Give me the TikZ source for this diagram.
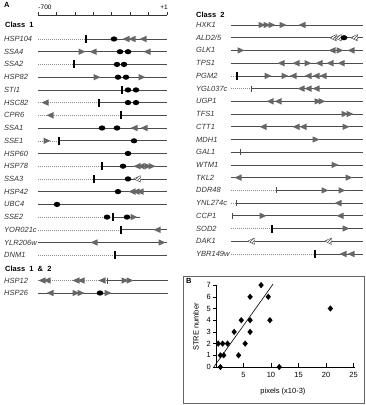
\documentclass[tikz,border=0pt]{standalone}
\usepackage{fontspec}
\setsansfont{Liberation Sans}
\usepackage{tikz}
\usetikzlibrary{patterns, shapes.geometric}
\tikzstyle{panel} = [anchor=west, inner sep=0pt, font=\sffamily\bfseries\fontsize{7.5}{8}\selectfont]
\tikzstyle{classname} = [anchor=west, inner sep=0pt, font=\sffamily\bfseries\fontsize{7.5}{8}\selectfont]
\tikzstyle{genename} = [anchor=west, inner sep=0pt, text=black!80, font=\sffamily\itshape\fontsize{7.5}{8}\selectfont]
\tikzstyle{rulelabel} = [inner sep=0pt, font=\sffamily\fontsize{6.5}{7}\selectfont]
\tikzstyle{ruler} = [line width=0.5pt, black!80]
\tikzstyle{orf} = [line width=0.8pt, black!70]
\tikzstyle{prom} = [line width=0.6pt, black!45, dash pattern=on 1pt off 1pt]
\tikzstyle{stre} = [fill=black!60]
\tikzstyle{axislabel} = [inner sep=0pt, font=\sffamily\fontsize{7.5}{8}\selectfont]
\tikzstyle{stredot} = [diamond, fill=black, inner sep=0pt, minimum width=5.5pt, minimum height=6.5pt]
\tikzset{
  stl/.pic={\fill[stre] (3.5,-3.2) -- (3.5,3.2) -- (-3.5,0) -- cycle;},
  str/.pic={\fill[stre] (-3.5,-3.2) -- (-3.5,3.2) -- (3.5,0) -- cycle;},
  stlh/.pic={\filldraw[fill=white, draw=black!70, line width=0.4pt] (3.5,-3.2) -- (3.5,3.2) -- (-3.5,0) -- cycle;
    \fill[pattern=north east lines, pattern color=black!70] (3.5,-3.2) -- (3.5,3.2) -- (-3.5,0) -- cycle;},
  hse/.pic={\fill (0,0) ellipse (3.3 and 2.6);},
  tata/.pic={\fill (-1.3,-4) rectangle (1.3,4);},
  tsite/.pic={\draw[line width=0.5pt, black!70] (0,-3) -- (0,3);}
}

\begin{document}
\begin{tikzpicture}[x=1pt, y=-1pt]
  \useasboundingbox (0,0) rectangle (366,405);
  % panel A
  \node[panel] (labA) at (4,5) {A};
  \draw[ruler] (38,15) -- (167,15);
  \foreach \k in {0,...,7} \draw[ruler] (38+\k*18.43,15) -- (38+\k*18.43,12);
  \node[rulelabel] (r700) at (45,7) {-700};
  \node[rulelabel] (r1) at (164,7) {+1};

  % class 1
  \node[classname] (cls1) at (5,25) {Class\ \ 1};
  \node[genename] (hsp104) at (4,39) {HSP104};
  \draw[prom] (38,39) -- (86,39); \draw[orf] (86,39) -- (167,39);
  \pic at (86,39) {tata}; \pic at (114,39) {hse};
  \foreach \x in {126,132,143} \pic at (\x,39) {stl};

  \node[genename] (ssa4) at (4,51.7) {SSA4};
  \draw[orf] (38,51.7) -- (167,51.7);
  \pic at (82,51.7) {str}; \pic at (93,51.7) {stl}; \pic at (147,51.7) {stl};
  \foreach \x in {120,128} \pic at (\x,51.7) {hse};

  \node[genename] (ssa2) at (4,64.4) {SSA2};
  \draw[prom] (38,64.4) -- (74,64.4); \draw[orf] (74,64.4) -- (167,64.4);
  \pic at (74,64.4) {tata};
  \foreach \x in {117,124} \pic at (\x,64.4) {hse};

  \node[genename] (hsp82) at (4,77.2) {HSP82};
  \draw[orf] (38,77.2) -- (167,77.2);
  \pic at (97,77.2) {str}; \pic at (142,77.2) {str};
  \foreach \x in {118,126} \pic at (\x,77.2) {hse};

  \node[genename] (sti1) at (4,89.9) {STI1};
  \draw[orf] (38,89.9) -- (167,89.9);
  \pic at (122,89.9) {tata};
  \foreach \x in {128,136} \pic at (\x,89.9) {hse};

  \node[genename] (hsc82) at (4,102.6) {HSC82};
  \draw[prom] (38,102.6) -- (99,102.6); \draw[orf] (99,102.6) -- (167,102.6);
  \pic at (45,102.6) {stl}; \pic at (99,102.6) {tata};
  \foreach \x in {128,136} \pic at (\x,102.6) {hse};

  \node[genename] (cpr6) at (4,115.3) {CPR6};
  \draw[prom] (38,115.3) -- (121,115.3); \draw[orf] (121,115.3) -- (167,115.3);
  \pic at (50,115.3) {stl}; \pic at (121,115.3) {tata};

  \node[genename] (ssa1) at (4,128) {SSA1};
  \draw[orf] (38,128) -- (167,128);
  \foreach \x in {102,117} \pic at (\x,128) {hse};
  \foreach \x in {134,144} \pic at (\x,128) {stl};

  \node[genename] (sse1) at (4,140.8) {SSE1};
  \draw[prom] (38,140.8) -- (59,140.8); \draw[orf] (59,140.8) -- (167,140.8);
  \pic at (47,140.8) {str}; \pic at (59,140.8) {tata}; \pic at (134,140.8) {hse};

  \node[genename] (hsp60) at (4,153.5) {HSP60};
  \draw[orf] (38,153.5) -- (167,153.5);
  \pic at (128,153.5) {hse};

  \node[genename] (hsp78) at (4,166.2) {HSP78};
  \draw[prom] (38,166.2) -- (102,166.2); \draw[orf] (102,166.2) -- (167,166.2);
  \pic at (102,166.2) {tata}; \pic at (123,166.2) {hse};
  \foreach \x in {137,141} \pic at (\x,166.2) {stl};
  \foreach \x in {148,152} \pic at (\x,166.2) {str};

  \node[genename] (ssa3) at (4,178.9) {SSA3};
  \draw[prom] (38,178.9) -- (94,178.9); \draw[orf] (94,178.9) -- (167,178.9);
  \pic at (94,178.9) {tata}; \pic at (128,178.9) {hse}; \pic at (137,178.9) {stlh};

  \node[genename] (hsp42) at (4,191.6) {HSP42};
  \draw[orf] (38,191.6) -- (167,191.6);
  \pic at (118,191.6) {hse};
  \foreach \x in {132,136,140} \pic at (\x,191.6) {stl};

  \node[genename] (ubc4) at (4,204.4) {UBC4};
  \draw[orf] (38,204.4) -- (167,204.4);
  \pic at (57,204.4) {hse};

  \node[genename] (sse2) at (4,217.1) {SSE2};
  \draw[prom] (38,217.1) -- (113,217.1); \draw[orf] (113,217.1) -- (140,217.1);
  \pic at (107,217.1) {hse}; \pic at (113,217.1) {tata};
  \pic at (127,217.1) {hse}; \pic at (134,217.1) {str};

  \node[genename] (yor021c) at (4,229.8) {YOR021c};
  \draw[prom] (38,229.8) -- (121,229.8); \draw[orf] (121,229.8) -- (167,229.8);
  \pic at (121,229.8) {tata}; \pic at (157,229.8) {stl};

  \node[genename] (ylr206w) at (4,242.5) {YLR206w};
  \draw[orf] (38,242.5) -- (167,242.5);
  \pic at (94,242.5) {stl}; \pic at (162,242.5) {str};

  \node[genename] (dnm1) at (4,255.2) {DNM1};
  \draw[prom] (38,255.2) -- (115,255.2); \draw[orf] (115,255.2) -- (167,255.2);
  \pic at (115,255.2) {tata};

  % class 1 & 2
  \node[classname] (cls12) at (5,268.5) {Class\ \ 1\ \ \&\ \ 2};
  \node[genename] (hsp12) at (4,280.5) {HSP12};
  \draw[prom] (38,280.5) -- (107,280.5); \draw[orf] (107,280.5) -- (168,280.5);
  \foreach \x in {42,47,76,81,102} \pic at (\x,280.5) {stl};
  \pic at (107,280.5) {tsite};
  \foreach \x in {125,130} \pic at (\x,280.5) {str};

  \node[genename] (hsp26) at (4,293) {HSP26};
  \draw[orf] (38,293) -- (168,293);
  \pic at (50,293) {stl};
  \foreach \x in {76,81,108} \pic at (\x,293) {str};
  \pic at (100,293) {hse};

  % class 2
  \node[classname] (cls2) at (196,15) {Class\ \ 2};
  \node[genename] (hxk1) at (196,25) {HXK1};
  \draw[orf] (231,25) -- (363,25);
  \foreach \x in {262,267,272,283} \pic at (\x,25) {str};
  \pic at (302,25) {stl};

  \node[genename] (ald25) at (196,37.7) {ALD2/5};
  \draw[orf] (231,37.7) -- (363,37.7);
  \foreach \x in {333,338} \pic at (\x,37.7) {stlh};
  \pic at (344,37.7) {hse}; \pic at (354,37.7) {stlh};

  \node[genename] (glk1) at (196,50.4) {GLK1};
  \draw[orf] (231,50.4) -- (363,50.4);
  \pic at (241,50.4) {str}; \pic at (332,50.4) {stl};
  \pic at (340,50.4) {str}; \pic at (351,50.4) {stl};

  \node[genename] (tps1) at (196,63.2) {TPS1};
  \draw[orf] (231,63.2) -- (363,63.2);
  \foreach \x in {281,296,319,330,341} \pic at (\x,63.2) {stl};
  \pic at (308,63.2) {str};

  \node[genename] (pgm2) at (196,75.9) {PGM2};
  \draw[prom] (231,75.9) -- (237,75.9); \draw[orf] (237,75.9) -- (363,75.9);
  \pic at (237,75.9) {tata};
  \foreach \x in {268,285} \pic at (\x,75.9) {str};
  \foreach \x in {293,308,316,323} \pic at (\x,75.9) {stl};

  \node[genename] (ygl037c) at (196,88.6) {YGL037c};
  \draw[prom] (231,88.6) -- (251,88.6); \draw[orf] (251,88.6) -- (363,88.6);
  \pic at (251,88.6) {tsite};
  \foreach \x in {301,308,316} \pic at (\x,88.6) {stl};

  \node[genename] (ugp1) at (196,101.3) {UGP1};
  \draw[orf] (231,101.3) -- (363,101.3);
  \foreach \x in {270,278} \pic at (\x,101.3) {stl};
  \foreach \x in {318,322} \pic at (\x,101.3) {str};

  \node[genename] (tfs1) at (196,114) {TFS1};
  \draw[orf] (231,114) -- (363,114);
  \foreach \x in {345,350} \pic at (\x,114) {str};

  \node[genename] (ctt1) at (196,126.8) {CTT1};
  \draw[orf] (231,126.8) -- (363,126.8);
  \foreach \x in {263,296,303} \pic at (\x,126.8) {stl};
  \pic at (346,126.8) {str};

  \node[genename] (mdh1) at (196,139.5) {MDH1};
  \draw[orf] (231,139.5) -- (363,139.5);
  \pic at (316,139.5) {str};

  \node[genename] (gal1) at (196,152.2) {GAL1};
  \draw[orf] (231,152.2) -- (363,152.2);
  \pic at (240,152.2) {tsite};

  \node[genename] (wtm1) at (196,164.9) {WTM1};
  \draw[orf] (231,164.9) -- (363,164.9);
  \pic at (335,164.9) {str};

  \node[genename] (tkl2) at (196,177.6) {TKL2};
  \draw[orf] (231,177.6) -- (363,177.6);
  \pic at (238,177.6) {stl}; \pic at (349,177.6) {str};

  \node[genename] (ddr48) at (196,190.4) {DDR48};
  \draw[prom] (231,190.4) -- (276,190.4); \draw[orf] (276,190.4) -- (363,190.4);
  \pic at (276,190.4) {tsite};
  \foreach \x in {325,342} \pic at (\x,190.4) {str};

  \node[genename] (ynl274c) at (196,203.1) {YNL274c};
  \draw[prom] (231,203.1) -- (236,203.1); \draw[orf] (236,203.1) -- (363,203.1);
  \pic at (236,203.1) {tsite}; \pic at (338,203.1) {stl};

  \node[genename] (ccp1) at (196,215.8) {CCP1};
  \draw[orf] (232,215.8) -- (363,215.8);
  \pic at (232,215.8) {tsite}; \pic at (263,215.8) {str}; \pic at (340,215.8) {stl};

  \node[genename] (sod2) at (196,228.5) {SOD2};
  \draw[prom] (231,228.5) -- (272,228.5); \draw[orf] (272,228.5) -- (363,228.5);
  \pic at (272,228.5) {tata}; \pic at (346,228.5) {str};

  \node[genename] (dak1) at (196,241.2) {DAK1};
  \draw[orf] (231,241.2) -- (363,241.2);
  \foreach \x in {251,328} \pic at (\x,241.2) {stlh};

  \node[genename] (ybr149w) at (196,254) {YBR149w};
  \draw[prom] (231,254) -- (315,254); \draw[orf] (315,254) -- (363,254);
  \pic at (315,254) {tata};
  \foreach \x in {343,351} \pic at (\x,254) {stl};

  % panel B
  \draw[line width=0.5pt, black!60] (183,276) rectangle (364,403);
  \node[panel] (labB) at (186,281) {B};
  \node[axislabel, rotate=90] (ylab) at (196,327) {STRE number};
  \node[axislabel] (xlab) at (283,392) {pixels (x10-3)};
  \begin{scope}[shift={(216,367)}, x=5.5pt, y=11.7pt]
    \draw[line width=0.5pt] (0,7) -- (0,0) -- (25.3,0);
    \foreach \y in {0,...,7} {
      \draw[line width=0.5pt] (-0.5,\y) -- (0,\y);
      \node[axislabel, anchor=east] (yt\y) at (-0.9,\y) {\y};
    }
    \foreach \x in {5,10,...,25} {
      \draw[line width=0.5pt] (\x,0) -- (\x,0.3);
      \node[axislabel, anchor=north] (xt\x) at (\x,-0.45) {\x};
    }
    \foreach \px/\py [count=\i] in {8.2/7, 6.2/6, 9.5/6, 20.8/5, 4.6/4, 6.2/4, 9.8/4,
        3.3/3, 6.2/3, 0.4/2, 1.2/2, 2.1/2, 5.3/2, 0.8/1, 1.4/1, 4.1/1, 0.8/0, 11.5/0}
      \node[stredot] (pt\i) at (\px,\py) {};
    \draw[line width=0.6pt] (-0.4,0) -- (10.4,7.1);
  \end{scope}
\end{tikzpicture}
\end{document}
